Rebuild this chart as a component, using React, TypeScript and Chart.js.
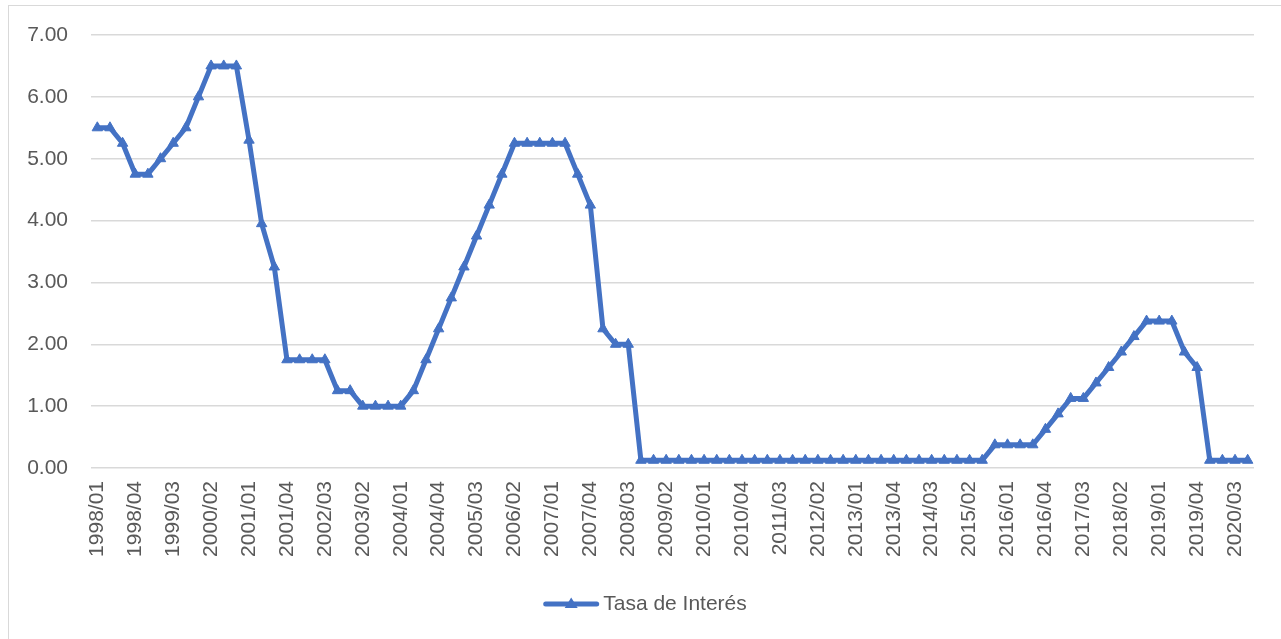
import React, { useEffect, useRef } from "react";
import { Chart, registerables } from "chart.js";

Chart.register(...registerables);

// Quarterly categories 1998/01 … 2020/04
const years = [
  1998, 1999, 2000, 2001, 2002, 2003, 2004, 2005, 2006, 2007, 2008, 2009,
  2010, 2011, 2012, 2013, 2014, 2015, 2016, 2017, 2018, 2019, 2020,
];
const quarters = ["01", "02", "03", "04"];
const categories = years.flatMap((y) => quarters.map((q) => `${y}/${q}`));

// Interest rate (%), one value per quarter
const rates1998to2002 = [
  5.5, 5.5, 5.25, 4.75,
  4.75, 5.0, 5.25, 5.5,
  6.0, 6.5, 6.5, 6.5,
  5.3, 3.95, 3.25, 1.75,
  1.75, 1.75, 1.75, 1.25,
];
const rates2003to2008 = [
  1.25, 1.0, 1.0, 1.0,
  1.0, 1.25, 1.75, 2.25,
  2.75, 3.25, 3.75, 4.25,
  4.75, 5.25, 5.25, 5.25,
  5.25, 5.25, 4.75, 4.25,
  2.25, 2.0, 2.0, 0.125,
];
const rates2009to2014 = [
  0.125, 0.125, 0.125, 0.125,
  0.125, 0.125, 0.125, 0.125,
  0.125, 0.125, 0.125, 0.125,
  0.125, 0.125, 0.125, 0.125,
  0.125, 0.125, 0.125, 0.125,
  0.125, 0.125, 0.125, 0.125,
];
const rates2015to2020 = [
  0.125, 0.125, 0.125, 0.375,
  0.375, 0.375, 0.375, 0.625,
  0.875, 1.125, 1.125, 1.375,
  1.625, 1.875, 2.125, 2.375,
  2.375, 2.375, 1.875, 1.625,
  0.125, 0.125, 0.125, 0.125,
];
const rates = [
  ...rates1998to2002,
  ...rates2003to2008,
  ...rates2009to2014,
  ...rates2015to2020,
];

const seriesLabel = "Tasa de Interés";
const yTicks = { min: 0, max: 7, step: 1 };
const labelEvery = 3;

const BLUE = "#4472C4";
const GRID = "#d9d9d9";
const TEXT = "#595959";
const FONT = "'Liberation Sans', Arial, sans-serif";

// Bottom legend: line sample with a triangle marker, followed by the series name
const bottomLegend = {
  id: "bottomLegend",
  afterDraw(chart: any) {
    const ctx = chart.ctx as CanvasRenderingContext2D;
    const ds = chart.data.datasets[0];
    const size = 21;
    ctx.save();
    ctx.font = `${size}px ${FONT}`;
    const text = String(ds.label);
    const tw = ctx.measureText(text).width;
    const sample = 56;
    const gap = 4;
    const total = sample + gap + tw;
    const x0 = chart.width / 2 - total / 2;
    const y = chart.height - 35;
    ctx.strokeStyle = BLUE;
    ctx.lineWidth = 5;
    ctx.lineCap = "round";
    ctx.beginPath();
    ctx.moveTo(x0 + 2.5, y);
    ctx.lineTo(x0 + sample - 2.5, y);
    ctx.stroke();
    const cx = x0 + sample / 2;
    const r = 6.5;
    ctx.fillStyle = BLUE;
    ctx.beginPath();
    ctx.moveTo(cx, y - r);
    ctx.lineTo(cx + r, y + r * 0.6);
    ctx.lineTo(cx - r, y + r * 0.6);
    ctx.closePath();
    ctx.fill();
    ctx.fillStyle = TEXT;
    ctx.textBaseline = "middle";
    ctx.textAlign = "left";
    ctx.fillText(text, x0 + sample + gap, y);
    ctx.restore();
  },
};

function RateChart() {
  const canvasRef = useRef<HTMLCanvasElement | null>(null);

  useEffect(() => {
    const canvas = canvasRef.current;
    if (!canvas) return;
    const chart = new Chart(canvas, {
      type: "line",
      data: {
        labels: categories,
        datasets: [
          {
            label: seriesLabel,
            data: rates,
            borderColor: BLUE,
            backgroundColor: BLUE,
            borderWidth: 5,
            tension: 0,
            pointStyle: "triangle",
            pointRadius: 6,
            pointBorderWidth: 1,
            pointBackgroundColor: BLUE,
            pointBorderColor: BLUE,
          },
        ],
      },
      options: {
        animation: false,
        responsive: false,
        maintainAspectRatio: false,
        layout: { autoPadding: false, padding: { left: 0, right: 27, top: 29, bottom: 42 } },
        plugins: {
          legend: { display: false },
          tooltip: { enabled: false },
        },
        scales: {
          x: {
            offset: true,
            grid: { display: false, drawTicks: false },
            border: { display: false },
            ticks: {
              autoSkip: false,
              maxRotation: 90,
              minRotation: 90,
              padding: 13,
              color: TEXT,
              font: { family: FONT, size: 21 },
              callback: (_v: any, i: number) =>
                i % labelEvery === 0 ? categories[i] : "",
            },
            afterFit: (scale: any) => {
              scale.height = 129;
              scale.paddingLeft = 0;
              scale.paddingRight = 0;
            },
          },
          y: {
            min: yTicks.min,
            max: yTicks.max,
            border: { display: false },
            grid: { color: GRID, lineWidth: 1.5, drawTicks: false },
            ticks: {
              stepSize: yTicks.step,
              padding: 23,
              color: TEXT,
              font: { family: FONT, size: 21 },
              callback: (v: any) => Number(v).toFixed(2),
            },
            afterFit: (scale: any) => {
              scale.width = 82;
              scale.paddingTop = 0;
              scale.paddingBottom = 0;
            },
          },
        },
      },
      plugins: [bottomLegend],
    });
    return () => chart.destroy();
  }, []);

  return <canvas ref={canvasRef} width={1272} height={633} style={{ display: "block" }} />;
}

export default function App() {
  useEffect(() => {
    document.body.style.overflow = "hidden";
  }, []);
  return (
    <div
      style={{
        position: "absolute",
        left: 8,
        top: 5,
        width: 1273,
        height: 634,
        borderTop: `1px solid ${GRID}`,
        borderLeft: `1px solid ${GRID}`,
        background: "#fff",
      }}
    >
      <RateChart />
    </div>
  );
}
